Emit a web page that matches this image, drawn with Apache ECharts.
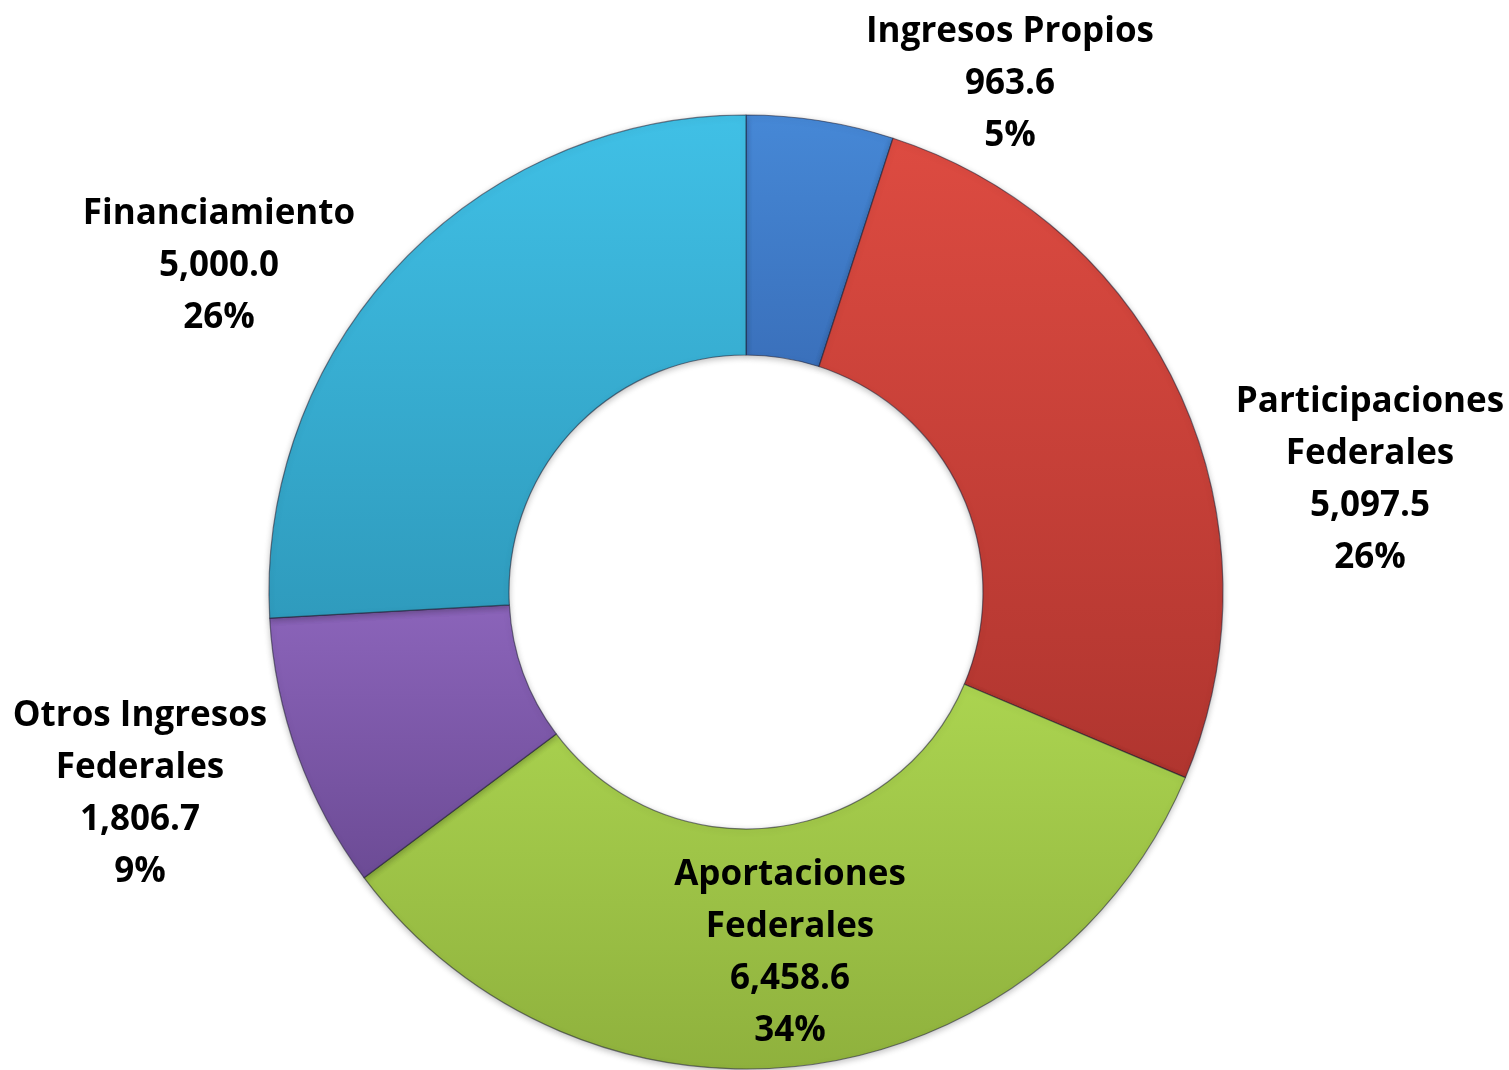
<!DOCTYPE html>
<html>
<head>
<meta charset="utf-8">
<script src="https://cdn.jsdelivr.net/npm/echarts@6/dist/echarts.min.js"></script>
<style>
  html, body { margin: 0; padding: 0; background: #fff; }
  #main { width: 1509px; height: 1070px; }
</style>
</head>
<body>
<div id="main"></div>
<script>
var myChart = echarts.init(document.getElementById('main'));

// datos (millones de pesos)
var categorias = ['Ingresos Propios', 'Participaciones\nFederales', 'Aportaciones\nFederales', 'Otros Ingresos\nFederales', 'Financiamiento'];
var valores = [963.6, 5097.5, 6458.6, 1806.7, 5000.0];

// colores: claro arriba, oscuro abajo
var coloresArriba = ['#4688d6', '#dd4b41', '#abd450', '#8b64ba', '#40c0e6'];
var coloresAbajo = ['#3a70bb', '#b0352f', '#8fb13d', '#6c4b95', '#2f9bbd'];

// posicion de las etiquetas (centro del bloque de texto)
var posEtiquetas = [[1010, 84], [1370, 480], [790, 953], [140, 794], [219, 266]];

function fmt(v) {
    return v.toLocaleString('en-US', { minimumFractionDigits: 1, maximumFractionDigits: 1 });
}

var datos = [];
for (var i = 0; i < valores.length; i++) {
    datos.push({
        value: valores[i],
        name: categorias[i],
        itemStyle: {
            color: new echarts.graphic.LinearGradient(0, 0, 0, 1, [
                { offset: 0, color: coloresArriba[i] },
                { offset: 1, color: coloresAbajo[i] }
            ])
        }
    });
}

option = {
    backgroundColor: '#ffffff',
    animation: false,
    series: [
        {
            name: 'Ingresos',
            type: 'pie',
            center: [746, 592],
            radius: [237, 477],
            startAngle: 90,
            clockwise: true,
            percentPrecision: 0,
            avoidLabelOverlap: false,
            itemStyle: {
                borderColor: 'rgba(30,30,50,0.55)',
                borderWidth: 1.2,
                shadowBlur: 6,
                shadowColor: 'rgba(0,0,0,0.25)',
                shadowOffsetY: 2
            },
            label: {
                show: true,
                position: 'outside',
                formatter: function (p) {
                    return p.name + '\n' + fmt(p.value) + '\n' + p.percent + '%';
                },
                fontFamily: 'Open Sans',
                fontWeight: 'bold',
                fontSize: 35,
                lineHeight: 52,
                color: '#000',
                align: 'center'
            },
            labelLine: { show: false },
            labelLayout: function (params) {
                var p = posEtiquetas[params.dataIndex];
                return {
                    x: p[0],
                    y: p[1],
                    align: 'center',
                    verticalAlign: 'middle'
                };
            },
            data: datos
        }
    ]
};
myChart.setOption(option);
</script>
</body>
</html>
